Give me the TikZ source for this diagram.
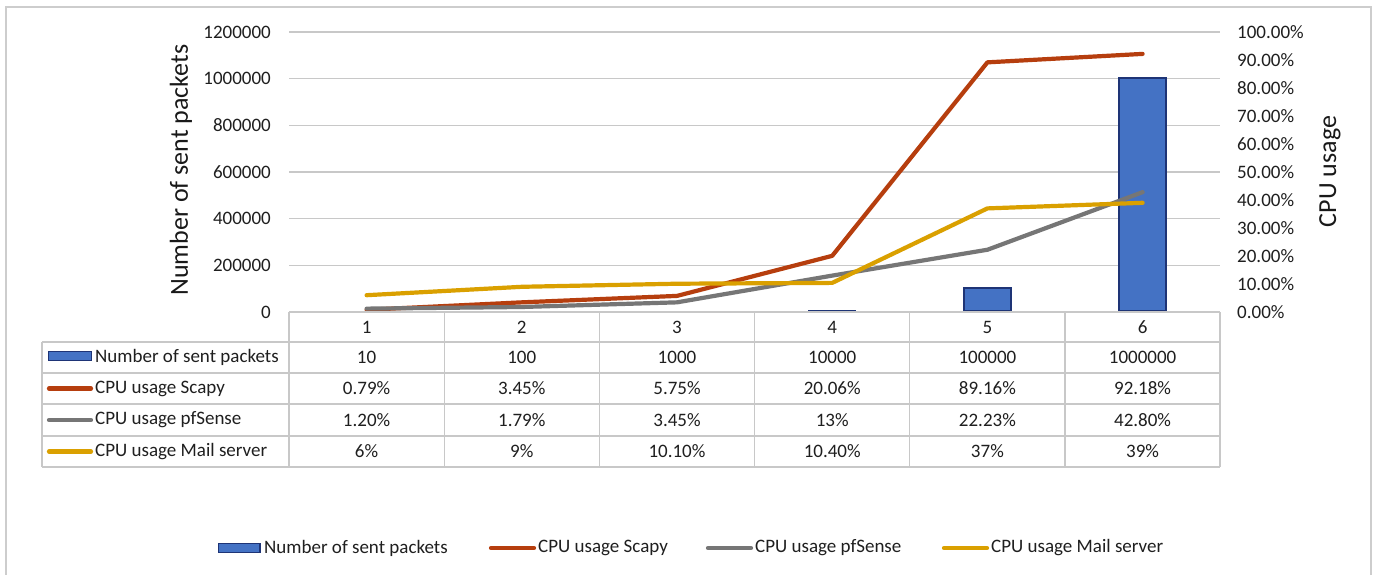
\documentclass[tikz,border=0pt]{standalone}
\usepackage{fontspec}
\setmainfont{Carlito}
\definecolor{barfill}{RGB}{68,114,196}
\definecolor{barline}{RGB}{30,52,118}
\definecolor{scapy}{RGB}{182,62,14}
\definecolor{pfs}{RGB}{118,118,118}
\definecolor{mail}{RGB}{218,160,0}
\definecolor{gridc}{RGB}{200,200,200}
\definecolor{framec}{RGB}{205,205,205}
\tikzset{
  lbl/.style={font=\fontsize{19}{22}\selectfont, inner sep=0pt, text=black!88},
  ttl/.style={font=\fontsize{26}{30}\selectfont, inner sep=0pt, rotate=90, text=black!90},
  gridline/.style={draw=gridc, line width=1.4pt},
  tabline/.style={draw=gridc, line width=1.4pt},
  series/.style={line width=4.2pt, line cap=round, line join=round},
  barstyle/.style={fill=barfill, draw=barline, line width=1.6pt},
}
\begin{document}
\begin{tikzpicture}[x=1pt,y=-1pt]
\useasboundingbox (0,0) rectangle (1381,575);
\fill[white] (0,0) rectangle (1381,575);
% outer frame
\draw[framec, line width=2pt] (6,580) -- (6,7) -- (1371,7) -- (1371,580);

% gridlines
\foreach \i in {1,...,6} {
  \draw[gridline] (289,{312-46.667*\i}) -- (1220,{312-46.667*\i});
}
% left axis labels
\foreach \i/\t in {0/0,1/200000,2/400000,3/600000,4/800000,5/1000000,6/1200000} {
  \node[lbl, anchor=east] (la\i) at (271,{312-46.667*\i}) {\t};
}
% right axis labels
\foreach \i/\t in {0/0.00\%,1/10.00\%,2/20.00\%,3/30.00\%,4/40.00\%,5/50.00\%,6/60.00\%,7/70.00\%,8/80.00\%,9/90.00\%,10/100.00\%} {
  \node[lbl, anchor=west] (ra\i) at (1237,{312-28*\i}) {\t};
}
% axis titles
\node[ttl] (ltitle) at (181,170) {Number of sent packets};
\node[ttl] (rtitle) at (1330,171.5) {CPU usage};

% bars
\node[fill=barline, inner sep=0pt, minimum width=48pt, minimum height=2pt, anchor=south] (bar4) at (832.2,312) {};
\node[barstyle, inner sep=0pt, minimum width=47pt, minimum height=23.3pt, anchor=south] (bar5) at (987.4,312) {};
\node[barstyle, inner sep=0pt, minimum width=47pt, minimum height=233.3pt, anchor=south] (bar6) at (1142.6,312) {};

% series coordinates
\coordinate (s1) at (366.6,{312-2.8*0.79});
\coordinate (s2) at (521.8,{312-2.8*3.45});
\coordinate (s3) at (677.0,{312-2.8*5.75});
\coordinate (s4) at (832.2,{312-2.8*20.06});
\coordinate (s5) at (987.4,{312-2.8*89.16});
\coordinate (s6) at (1142.6,{312-2.8*92.18});
\coordinate (p1) at (366.6,{312-2.8*1.20});
\coordinate (p2) at (521.8,{312-2.8*1.79});
\coordinate (p3) at (677.0,{312-2.8*3.45});
\coordinate (p4) at (832.2,{312-2.8*13});
\coordinate (p5) at (987.4,{312-2.8*22.23});
\coordinate (p6) at (1142.6,{312-2.8*42.80});
\coordinate (m1) at (366.6,{312-2.8*6});
\coordinate (m2) at (521.8,{312-2.8*9});
\coordinate (m3) at (677.0,{312-2.8*10.10});
\coordinate (m4) at (832.2,{312-2.8*10.40});
\coordinate (m5) at (987.4,{312-2.8*37});
\coordinate (m6) at (1142.6,{312-2.8*39});
\draw[series, scapy] (s1) -- (s2) -- (s3) -- (s4) -- (s5) -- (s6);
\draw[series, pfs] (p1) -- (p2) -- (p3) -- (p4) -- (p5) -- (p6);
\draw[series, mail] (m1) -- (m2) -- (m3) -- (m4) -- (m5) -- (m6);

% data table
\draw[tabline] (289,312) -- (1220,312);
\draw[tabline] (42,342) -- (1220,342);
\draw[tabline] (42,373) -- (1220,373);
\draw[tabline] (42,404) -- (1220,404);
\draw[tabline] (42,436) -- (1220,436);
\draw[tabline] (42,467) -- (1220,467);
\draw[tabline] (42,342) -- (42,467);
\foreach \x in {289,444.2,599.3,754.5,909.7,1064.8,1220} {
  \draw[tabline] (\x,312) -- (\x,467);
}
% header row
\foreach \i/\x in {1/366.6,2/521.8,3/677.0,4/832.2,5/987.4,6/1142.6} {
  \node[lbl] (h\i) at (\x,327) {\i};
}
% row labels with markers
\fill[barfill, draw=barline, line width=1.4pt] (48.5,351.5) rectangle (91.5,360.5);
\node[lbl, anchor=west] (r1) at (95,357.5) {Number of sent packets};
\draw[series, scapy] (49,388.5) -- (91,388.5);
\node[lbl, anchor=west] (r2) at (95,388.5) {CPU usage Scapy};
\draw[series, pfs] (49,420) -- (91,420);
\node[lbl, anchor=west] (r3) at (95,420) {CPU usage pfSense};
\draw[series, mail] (49,451.5) -- (91,451.5);
\node[lbl, anchor=west] (r4) at (95,451.5) {CPU usage Mail server};
% values
\foreach \i/\x/\a/\b/\c/\d in {
  1/366.6/10/0.79\%/1.20\%/6\%,
  2/521.8/100/3.45\%/1.79\%/9\%,
  3/677.0/1000/5.75\%/3.45\%/10.10\%,
  4/832.2/10000/20.06\%/13\%/10.40\%,
  5/987.4/100000/89.16\%/22.23\%/37\%,
  6/1142.6/1000000/92.18\%/42.80\%/39\%} {
  \node[lbl] (va\i) at (\x,357.5) {\a};
  \node[lbl] (vb\i) at (\x,388.5) {\b};
  \node[lbl] (vc\i) at (\x,420) {\c};
  \node[lbl] (vd\i) at (\x,451.5) {\d};
}

% bottom legend
\fill[barfill, draw=barline, line width=1.4pt] (218.5,543.5) rectangle (260,552.5);
\node[lbl, anchor=west] (lg1) at (264,548) {Number of sent packets};
\draw[series, scapy] (491,548) -- (534,548);
\node[lbl, anchor=west] (lg2) at (538,548) {CPU usage Scapy};
\draw[series, pfs] (708,548) -- (751,548);
\node[lbl, anchor=west] (lg3) at (755,548) {CPU usage pfSense};
\draw[series, mail] (944,548) -- (987,548);
\node[lbl, anchor=west] (lg4) at (991,548) {CPU usage Mail server};
\end{tikzpicture}
\end{document}
